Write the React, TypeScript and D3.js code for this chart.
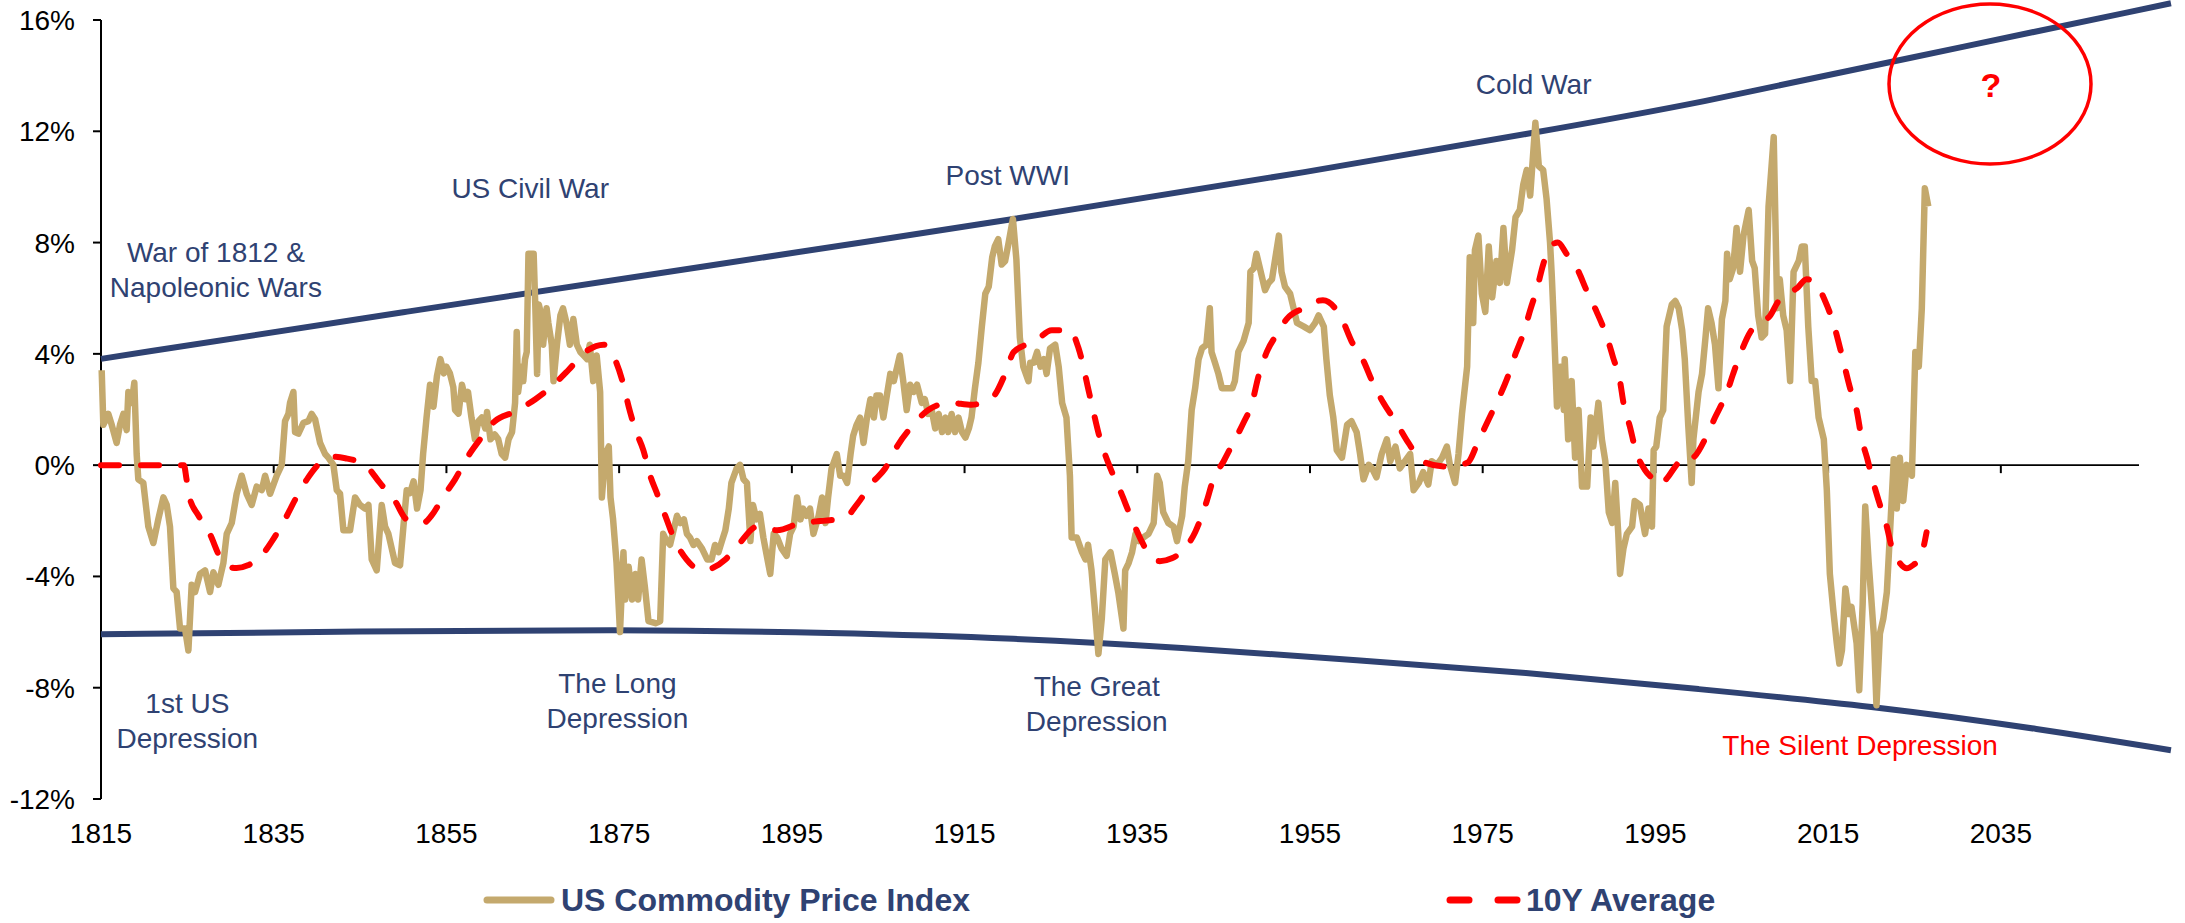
import React from "react";
import * as d3 from "d3";

// chart values: [year, % value]
const commodityIndex: [number, number][] = [
  [1815.08, 3.41], [1815.27, 1.45], [1815.85, 1.84], [1816.24, 1.45], [1816.81, 0.8], [1817.2, 1.45],
  [1817.59, 1.84], [1817.97, 1.26], [1818.17, 2.63], [1818.55, 2.24], [1818.86, 2.96], [1819.13, 0.4],
  [1819.32, -0.51], [1819.9, -0.64], [1820.48, -2.21], [1821.06, -2.8], [1821.64, -1.94], [1822.22, -1.16],
  [1822.61, -1.43], [1822.99, -2.21], [1823.38, -4.43], [1823.76, -4.56], [1824.15, -5.87], [1824.73, -5.87],
  [1825.12, -6.66], [1825.5, -4.3], [1825.89, -4.56], [1826.47, -3.91], [1827.05, -3.78], [1827.63, -4.56],
  [1828.01, -3.85], [1828.59, -4.3], [1829.17, -3.52], [1829.56, -2.47], [1830.14, -2.08], [1830.71, -1.03],
  [1831.29, -0.38], [1831.87, -1.03], [1832.45, -1.43], [1833.03, -0.77], [1833.61, -0.9], [1834.0, -0.38],
  [1834.58, -1.03], [1835.35, -0.38], [1835.93, 0.01], [1836.31, 1.58], [1836.7, 1.84], [1836.89, 2.24],
  [1837.28, 2.63], [1837.47, 1.19], [1837.86, 1.13], [1838.44, 1.52], [1839.02, 1.58], [1839.4, 1.84],
  [1839.79, 1.65], [1840.37, 0.8], [1840.95, 0.4], [1841.33, 0.27], [1841.91, 0.01], [1842.3, -0.9],
  [1842.68, -1.03], [1843.07, -2.34], [1843.84, -2.34], [1844.42, -1.16], [1845.0, -1.43], [1845.58, -1.56],
  [1845.97, -1.43], [1846.35, -3.39], [1846.93, -3.78], [1847.51, -1.43], [1847.9, -2.21], [1848.28, -2.47],
  [1848.67, -3.0], [1849.05, -3.52], [1849.63, -3.6], [1850.02, -2.21], [1850.4, -0.9], [1850.8, -1.0],
  [1851.2, -0.58], [1851.6, -1.56], [1852.0, -0.9], [1852.3, 0.4], [1852.7, 1.71], [1853.1, 2.89],
  [1853.5, 2.1], [1853.9, 3.2], [1854.3, 3.81], [1854.7, 3.3], [1855.0, 3.54], [1855.4, 3.3],
  [1855.8, 2.8], [1856.0, 1.98], [1856.4, 1.85], [1856.8, 2.89], [1857.2, 2.37], [1857.5, 2.63],
  [1857.9, 1.71], [1858.3, 0.93], [1858.7, 1.58], [1859.1, 1.71], [1859.5, 1.32], [1859.7, 1.91],
  [1860.1, 0.93], [1860.6, 1.1], [1861.0, 0.93], [1861.4, 0.4], [1861.8, 0.27], [1862.2, 0.93],
  [1862.6, 1.19], [1862.95, 2.24], [1863.14, 4.79], [1863.3, 2.63], [1863.7, 3.54], [1863.9, 3.02],
  [1864.1, 3.81], [1864.3, 4.07], [1864.5, 7.6], [1865.1, 7.6], [1865.3, 5.64], [1865.5, 3.28],
  [1865.7, 5.77], [1866.0, 5.38], [1866.2, 4.33], [1866.6, 5.64], [1866.8, 5.12], [1867.2, 4.33],
  [1867.4, 3.02], [1867.8, 4.33], [1868.2, 5.38], [1868.5, 5.64], [1868.9, 5.12], [1869.3, 4.33],
  [1869.7, 5.25], [1870.1, 4.33], [1870.5, 4.07], [1870.9, 3.94], [1871.3, 3.81], [1871.6, 4.33],
  [1872.0, 3.02], [1872.4, 3.94], [1872.8, 2.63], [1873.0, -1.16], [1873.4, 0.4], [1873.8, 0.67],
  [1874.0, -1.16], [1874.3, -1.95], [1874.7, -3.52], [1875.1, -6.0], [1875.5, -3.13], [1875.7, -4.83],
  [1876.1, -3.65], [1876.5, -4.83], [1876.9, -3.91], [1877.2, -4.83], [1877.6, -3.39], [1878.0, -4.43],
  [1878.4, -5.61], [1879.2, -5.68], [1879.75, -5.61], [1880.1, -2.47], [1880.5, -2.73], [1880.9, -2.86],
  [1881.3, -2.34], [1881.7, -1.82], [1882.1, -2.08], [1882.5, -1.95], [1882.85, -2.47], [1883.2, -2.6],
  [1883.6, -2.87], [1884.0, -2.73], [1884.6, -3.0], [1885.2, -3.39], [1885.7, -3.39], [1886.1, -2.87],
  [1886.5, -3.13], [1886.9, -2.73], [1887.3, -2.34], [1887.7, -1.56], [1888.0, -0.64], [1888.6, -0.12],
  [1889.0, 0.01], [1889.4, -0.51], [1889.8, -0.64], [1890.2, -2.73], [1890.5, -1.43], [1890.9, -1.95],
  [1891.3, -1.75], [1891.7, -2.6], [1892.1, -3.26], [1892.5, -3.91], [1892.9, -2.47], [1893.3, -2.6],
  [1893.8, -2.99], [1894.4, -3.26], [1894.8, -2.47], [1895.2, -2.21], [1895.6, -1.16], [1896.0, -1.95],
  [1896.3, -1.56], [1896.7, -1.82], [1897.1, -1.56], [1897.5, -2.47], [1898.1, -1.82], [1898.5, -1.16],
  [1898.9, -2.08], [1899.2, -1.16], [1899.6, -0.12], [1900.2, 0.4], [1900.6, -0.38], [1901.0, -0.38],
  [1901.4, -0.64], [1901.8, 0.4], [1902.1, 1.06], [1902.5, 1.45], [1902.9, 1.71], [1903.3, 0.8],
  [1903.7, 1.71], [1904.1, 2.37], [1904.5, 1.71], [1904.8, 2.5], [1905.2, 2.5], [1905.6, 1.71],
  [1906.0, 2.5], [1906.4, 3.28], [1906.8, 3.02], [1907.2, 3.54], [1907.5, 3.94], [1907.9, 3.02],
  [1908.3, 1.98], [1908.7, 2.89], [1909.1, 2.63], [1909.5, 2.89], [1910.05, 2.24], [1910.4, 2.37],
  [1910.8, 1.84], [1911.2, 1.98], [1911.6, 1.32], [1912.0, 1.84], [1912.4, 1.19], [1912.8, 1.71],
  [1913.1, 1.19], [1913.5, 1.84], [1913.9, 1.19], [1914.3, 1.71], [1914.7, 1.19], [1915.1, 0.99],
  [1915.5, 1.32], [1915.8, 1.71], [1916.2, 2.76], [1916.6, 3.68], [1917.0, 4.98], [1917.4, 6.16],
  [1917.8, 6.42], [1918.2, 7.47], [1918.5, 7.86], [1918.9, 8.12], [1919.3, 7.21], [1919.7, 7.34],
  [1920.1, 7.99], [1920.6, 8.85], [1921.0, 7.4], [1921.4, 4.59], [1921.8, 3.54], [1922.4, 3.02],
  [1922.6, 3.68], [1923.0, 3.68], [1923.4, 4.07], [1923.8, 3.54], [1924.2, 3.81], [1924.5, 3.28],
  [1924.9, 4.2], [1925.5, 4.33], [1925.9, 3.54], [1926.3, 2.24], [1926.8, 1.71], [1927.2, -0.38],
  [1927.4, -2.6], [1928.0, -2.6], [1928.6, -3.13], [1929.0, -3.39], [1929.3, -2.86], [1929.7, -3.78],
  [1930.1, -5.22], [1930.5, -6.79], [1930.9, -5.48], [1931.3, -3.39], [1931.9, -3.13], [1932.4, -3.91],
  [1932.8, -4.57], [1933.4, -5.87], [1933.6, -3.78], [1934.0, -3.52], [1934.4, -3.13], [1934.8, -2.47],
  [1935.2, -2.73], [1935.7, -2.6], [1936.3, -2.47], [1936.9, -2.08], [1937.3, -0.38], [1937.6, -0.64],
  [1938.0, -1.69], [1938.6, -2.08], [1939.2, -2.21], [1939.6, -2.73], [1940.2, -1.82], [1940.5, -0.77],
  [1940.9, 0.14], [1941.3, 1.98], [1941.7, 2.76], [1942.1, 3.81], [1942.5, 4.2], [1943.0, 4.33],
  [1943.4, 5.64], [1943.6, 4.07], [1944.0, 3.68], [1944.4, 3.28], [1944.8, 2.76], [1945.4, 2.76],
  [1946.0, 2.76], [1946.3, 3.02], [1946.7, 4.07], [1947.3, 4.46], [1947.9, 5.11], [1948.1, 6.95],
  [1948.5, 7.08], [1948.8, 7.6], [1949.2, 7.08], [1949.8, 6.29], [1950.2, 6.55], [1950.6, 6.68],
  [1951.0, 7.47], [1951.4, 8.25], [1951.7, 6.95], [1952.1, 6.42], [1952.7, 6.16], [1953.1, 5.64],
  [1953.5, 5.11], [1954.3, 4.98], [1955.0, 4.85], [1955.6, 5.11], [1956.0, 5.38], [1956.6, 4.98],
  [1956.9, 3.81], [1957.3, 2.5], [1957.7, 1.71], [1958.1, 0.54], [1958.7, 0.27], [1959.3, 1.45],
  [1959.8, 1.58], [1960.4, 1.19], [1960.8, 0.4], [1961.2, -0.51], [1961.8, 0.01], [1962.2, -0.12],
  [1962.7, -0.44], [1963.3, 0.4], [1963.9, 0.93], [1964.3, 0.14], [1964.9, 0.67], [1965.4, -0.12],
  [1966.0, 0.14], [1966.6, 0.4], [1967.0, -0.9], [1967.6, -0.64], [1968.1, -0.25], [1968.7, -0.7],
  [1969.1, 0.14], [1969.7, 0.01], [1970.3, 0.27], [1970.85, 0.67], [1971.2, 0.01], [1971.8, -0.64],
  [1972.2, 0.4], [1972.6, 1.84], [1973.2, 3.54], [1973.5, 7.47], [1973.9, 5.11], [1974.1, 7.73],
  [1974.5, 8.25], [1974.9, 6.16], [1975.3, 5.51], [1975.7, 7.86], [1976.1, 6.03], [1976.6, 7.34],
  [1977.0, 6.55], [1977.4, 8.52], [1977.8, 6.55], [1978.4, 7.73], [1978.8, 8.91], [1979.3, 9.17],
  [1979.7, 10.09], [1980.1, 10.61], [1980.5, 9.69], [1981.1, 12.31], [1981.5, 10.74], [1982.0, 10.61],
  [1982.4, 9.56], [1982.8, 7.99], [1983.0, 6.81], [1983.2, 5.38], [1983.6, 2.11], [1984.0, 3.54],
  [1984.4, 1.98], [1984.5, 3.81], [1984.9, 0.93], [1985.3, 3.02], [1985.7, 0.27], [1986.1, 1.98],
  [1986.5, -0.77], [1987.1, -0.77], [1987.5, 1.71], [1987.8, 0.67], [1988.4, 2.24], [1988.8, 0.93],
  [1989.2, 0.14], [1989.6, -1.69], [1990.0, -2.08], [1990.35, -0.64], [1990.7, -2.47], [1990.9, -3.91],
  [1991.3, -3.0], [1991.7, -2.47], [1992.3, -2.21], [1992.6, -1.29], [1993.2, -1.43], [1993.8, -2.47],
  [1994.2, -1.56], [1994.6, -2.21], [1994.8, 0.54], [1995.1, 0.67], [1995.5, 1.71], [1995.9, 1.98],
  [1996.3, 4.98], [1996.9, 5.77], [1997.3, 5.9], [1997.7, 5.64], [1998.1, 4.85], [1998.4, 3.81],
  [1998.8, 1.45], [1999.2, -0.64], [1999.4, 0.93], [2000.0, 2.63], [2000.4, 3.28], [2000.8, 4.59],
  [2001.1, 5.64], [2001.5, 5.11], [2001.9, 4.33], [2002.3, 2.76], [2002.7, 5.25], [2003.1, 5.9],
  [2003.3, 7.6], [2003.6, 6.68], [2004.0, 7.08], [2004.4, 8.52], [2004.8, 6.95], [2005.2, 8.25],
  [2005.8, 9.17], [2006.2, 7.34], [2006.5, 7.08], [2006.9, 5.38], [2007.3, 4.59], [2007.7, 4.72],
  [2008.1, 9.3], [2008.7, 11.79], [2009.1, 5.64], [2009.4, 6.68], [2009.8, 5.38], [2010.2, 4.85],
  [2010.6, 3.02], [2011.0, 6.95], [2011.6, 7.34], [2011.95, 7.86], [2012.3, 7.86], [2012.7, 4.98],
  [2013.1, 3.02], [2013.5, 3.02], [2013.9, 1.71], [2014.5, 0.93], [2014.85, -0.9], [2015.2, -3.91],
  [2015.6, -5.22], [2016.0, -6.4], [2016.3, -7.13], [2016.6, -6.66], [2017.0, -4.43], [2017.4, -5.35],
  [2017.7, -5.09], [2018.3, -6.4], [2018.6, -8.09], [2019.0, -5.0], [2019.3, -1.49], [2019.7, -3.52],
  [2020.0, -4.8], [2020.3, -6.13], [2020.6, -8.63], [2021.0, -6.05], [2021.4, -5.5], [2021.8, -4.57],
  [2022.2, -2.21], [2022.6, 0.21], [2022.95, -1.56], [2023.3, 0.27], [2023.7, -1.29], [2024.1, 0.01],
  [2024.7, -0.38], [2025.1, 4.07], [2025.5, 3.54], [2025.85, 5.64], [2026.2, 9.95], [2026.6, 9.3],
];

const tenYearAverage: [number, number][] = [
  [1815, 0], [1824.6, 0], [1824.9, -0.5], [1825.2, -1.1], [1826.3, -1.82], [1827.6, -2.47],
  [1828.8, -3.32], [1829.75, -3.65], [1830.7, -3.7], [1832.0, -3.6], [1833.4, -3.32], [1834.8, -2.73],
  [1836.3, -1.95], [1837.5, -1.23], [1839.0, -0.44], [1840.6, 0.14], [1842.0, 0.3], [1843.3, 0.25],
  [1845.6, 0.0], [1847.3, -0.64], [1849.05, -1.29], [1850.4, -1.95], [1852.3, -2.08], [1853.3, -1.8],
  [1854.7, -1.1], [1856.0, -0.51], [1857.4, 0.27], [1858.9, 0.93], [1860.6, 1.58], [1862.8, 1.91],
  [1865.3, 2.37], [1867.2, 2.83], [1869.1, 3.41], [1871.1, 4.07], [1873.2, 4.33], [1874.5, 3.81],
  [1875.5, 2.89], [1876.1, 2.11], [1876.9, 1.26], [1877.8, 0.54], [1878.6, -0.38], [1879.4, -1.03],
  [1880.5, -1.95], [1881.3, -2.6], [1882.8, -3.39], [1884.6, -3.78], [1887.3, -3.39], [1888.8, -2.86],
  [1891.0, -2.21], [1893.3, -2.34], [1896.0, -2.08], [1898.3, -2.01], [1901.2, -1.88], [1902.5, -1.43],
  [1904.3, -0.64], [1905.8, -0.12], [1907.3, 0.73], [1908.9, 1.39], [1910.8, 1.98], [1913.3, 2.24],
  [1915.8, 2.17], [1918.2, 2.43], [1919.7, 3.28], [1920.7, 4.07], [1923.2, 4.46], [1925.1, 4.85],
  [1927.2, 4.85], [1928.2, 4.2], [1929.5, 2.5], [1930.7, 0.93], [1931.9, -0.12], [1933.0, -0.9],
  [1934.2, -1.82], [1935.5, -2.73], [1936.5, -3.26], [1937.6, -3.45], [1939.0, -3.35], [1940.3, -3.06],
  [1941.7, -2.41], [1943.05, -1.29], [1943.8, -0.51], [1945.0, 0.14], [1946.1, 0.8], [1947.3, 1.52],
  [1948.3, 2.24], [1949.0, 3.15], [1950.0, 4.07], [1951.2, 4.72], [1952.3, 5.25], [1954.25, 5.64],
  [1956.5, 5.93], [1958.7, 5.25], [1959.8, 4.46], [1961.2, 3.74], [1962.2, 3.02], [1963.5, 2.24],
  [1964.9, 1.58], [1966.4, 0.8], [1968.0, 0.14], [1970.65, -0.05], [1973.2, 0.08], [1974.5, 0.86],
  [1975.7, 1.65], [1976.8, 2.37], [1977.8, 3.09], [1978.8, 4.0], [1979.7, 4.72], [1980.5, 5.57],
  [1981.3, 6.36], [1982.0, 7.21], [1982.8, 7.86], [1983.7, 8.0], [1984.7, 7.6], [1985.9, 7.08],
  [1987.1, 6.23], [1988.2, 5.51], [1989.4, 4.59], [1990.1, 3.87], [1990.9, 3.02], [1991.3, 2.24],
  [1992.1, 1.32], [1992.65, 0.6], [1993.8, -0.18], [1994.8, -0.51], [1995.5, -0.71], [1996.4, -0.45],
  [1997.3, -0.05], [1998.6, 0.34], [1999.2, 0.27], [2000.95, 1.06], [2001.9, 1.71], [2003.3, 2.63],
  [2004.0, 3.28], [2005.0, 4.13], [2006.0, 4.79], [2007.1, 5.11], [2008.3, 5.38], [2009.25, 5.9],
  [2010.2, 6.16], [2011.4, 6.36], [2012.5, 6.68], [2013.3, 6.62], [2014.65, 5.9], [2015.6, 5.11],
  [2016.6, 3.94], [2017.55, 2.76], [2018.3, 1.98], [2018.9, 0.93], [2019.5, 0.27], [2020.25, -0.64],
  [2021.0, -1.43], [2021.8, -2.21], [2022.4, -3.0], [2023.3, -3.52], [2024.1, -3.71], [2024.9, -3.58],
  [2025.7, -3.32], [2026.4, -2.41],
];

const upperTrend: [number, number][] = [
  [1815, 3.82], [1850, 5.5], [1885, 7.15], [1921, 8.85], [1956, 10.6],
  [1981, 11.95], [2000, 13.0], [2023, 14.55], [2054.7, 16.6],
];

const lowerTrend: [number, number][] = [
  [1815, -6.08], [1845, -5.98], [1875, -5.9], [1900, -6.02], [1921, -6.22], [1940, -6.55],
  [1960, -7.0], [1980, -7.45], [2000, -8.05], [2020, -8.65], [2040, -9.5], [2054.7, -10.25],
];

const yTicks = [-12, -8, -4, 0, 4, 8, 12, 16];
const xTicks = [1815, 1835, 1855, 1875, 1895, 1915, 1935, 1955, 1975, 1995, 2015, 2035];

const annotations = [
  { lines: ["War of 1812 &", "Napoleonic Wars"], year: 1828.3, value: 7.3, color: "navy" },
  { lines: ["US Civil War"], year: 1864.7, value: 9.6, color: "navy" },
  { lines: ["1st US", "Depression"], year: 1825.0, value: -8.9, color: "navy" },
  { lines: ["The Long", "Depression"], year: 1874.8, value: -8.2, color: "navy" },
  { lines: ["Post WWI"], year: 1920.0, value: 10.07, color: "navy" },
  { lines: ["The Great", "Depression"], year: 1930.3, value: -8.3, color: "navy" },
  { lines: ["Cold War"], year: 1980.9, value: 13.35, color: "navy" },
  { lines: ["The Silent Depression"], year: 2018.7, value: -10.43, color: "red" },
];

const NAVY = "#2F4272";
const GOLD = "#C4A96D";
const RED = "#FF0000";
const FONT = "'Liberation Sans', Arial, sans-serif";

export default function App() {
  const width = 2185;
  const height = 923;

  const x = d3.scaleLinear().domain([1815, 2051]).range([101, 2139]);
  const y = d3.scaleLinear().domain([-12, 16]).range([799, 20]);

  const line = d3
    .line<[number, number]>()
    .x((d) => x(d[0]))
    .y((d) => y(d[1]));

  const smooth = d3
    .line<[number, number]>()
    .x((d) => x(d[0]))
    .y((d) => y(d[1]))
    .curve(d3.curveMonotoneX);

  const trend = d3
    .line<[number, number]>()
    .x((d) => x(d[0]))
    .y((d) => y(d[1]))
    .curve(d3.curveBasis);

  return (
    <svg
      width={width}
      height={height}
      style={{ position: "absolute", left: 0, top: 0, display: "block", background: "#fff" }}
      fontFamily={FONT}
    >
      {/* y axis */}
      <line x1={x(1815)} x2={x(1815)} y1={y(16)} y2={y(-12)} stroke="#000" strokeWidth={2} />
      {yTicks.map((t) => (
        <g key={t}>
          <line x1={x(1815) - 8} x2={x(1815)} y1={y(t)} y2={y(t)} stroke="#000" strokeWidth={2} />
          <text x={75} y={y(t) + 10} textAnchor="end" fontSize={28} fill="#000">
            {t}%
          </text>
        </g>
      ))}

      {/* x axis on the zero line */}
      <line x1={x(1815)} x2={x(2051)} y1={y(0)} y2={y(0)} stroke="#000" strokeWidth={1.8} />
      {xTicks.map((t) => (
        <g key={t}>
          <line x1={x(t)} x2={x(t)} y1={y(0)} y2={y(0) + 8} stroke="#000" strokeWidth={2} />
          <text x={x(t)} y={843} textAnchor="middle" fontSize={28} fill="#000">
            {t}
          </text>
        </g>
      ))}

      {/* trend channel */}
      <path d={trend(upperTrend) ?? ""} fill="none" stroke={NAVY} strokeWidth={6} />
      <path d={trend(lowerTrend) ?? ""} fill="none" stroke={NAVY} strokeWidth={6} />

      {/* series */}
      <path
        d={line(commodityIndex) ?? ""}
        fill="none"
        stroke={GOLD}
        strokeWidth={6.5}
        strokeLinejoin="round"
      />
      <path
        d={smooth(tenYearAverage) ?? ""}
        fill="none"
        stroke={RED}
        strokeWidth={6}
        strokeDasharray="18 22"
        strokeLinecap="round"
      />

      {/* annotations */}
      {annotations.map((a, i) => (
        <text
          key={i}
          x={x(a.year)}
          y={y(a.value)}
          textAnchor="middle"
          fontSize={28}
          fill={a.color === "red" ? RED : NAVY}
        >
          {a.lines.map((l, j) => (
            <tspan key={j} x={x(a.year)} dy={j === 0 ? 0 : 35}>
              {l}
            </tspan>
          ))}
        </text>
      ))}

      {/* question circle */}
      <ellipse cx={1990} cy={84} rx={101} ry={80} fill="none" stroke={RED} strokeWidth={3.5} />
      <text x={1991} y={97} textAnchor="middle" fontSize={34} fontWeight="bold" fill={RED}>
        ?
      </text>

      {/* legend */}
      <line x1={487} x2={551} y1={900} y2={900} stroke={GOLD} strokeWidth={7} strokeLinecap="round" />
      <text x={561} y={911} fontSize={32} fontWeight="bold" fill={NAVY}>
        US Commodity Price Index
      </text>
      <line x1={1450} x2={1469} y1={900} y2={900} stroke={RED} strokeWidth={7} strokeLinecap="round" />
      <line x1={1498} x2={1517} y1={900} y2={900} stroke={RED} strokeWidth={7} strokeLinecap="round" />
      <text x={1526} y={911} fontSize={32} fontWeight="bold" fill={NAVY}>
        10Y Average
      </text>
    </svg>
  );
}
